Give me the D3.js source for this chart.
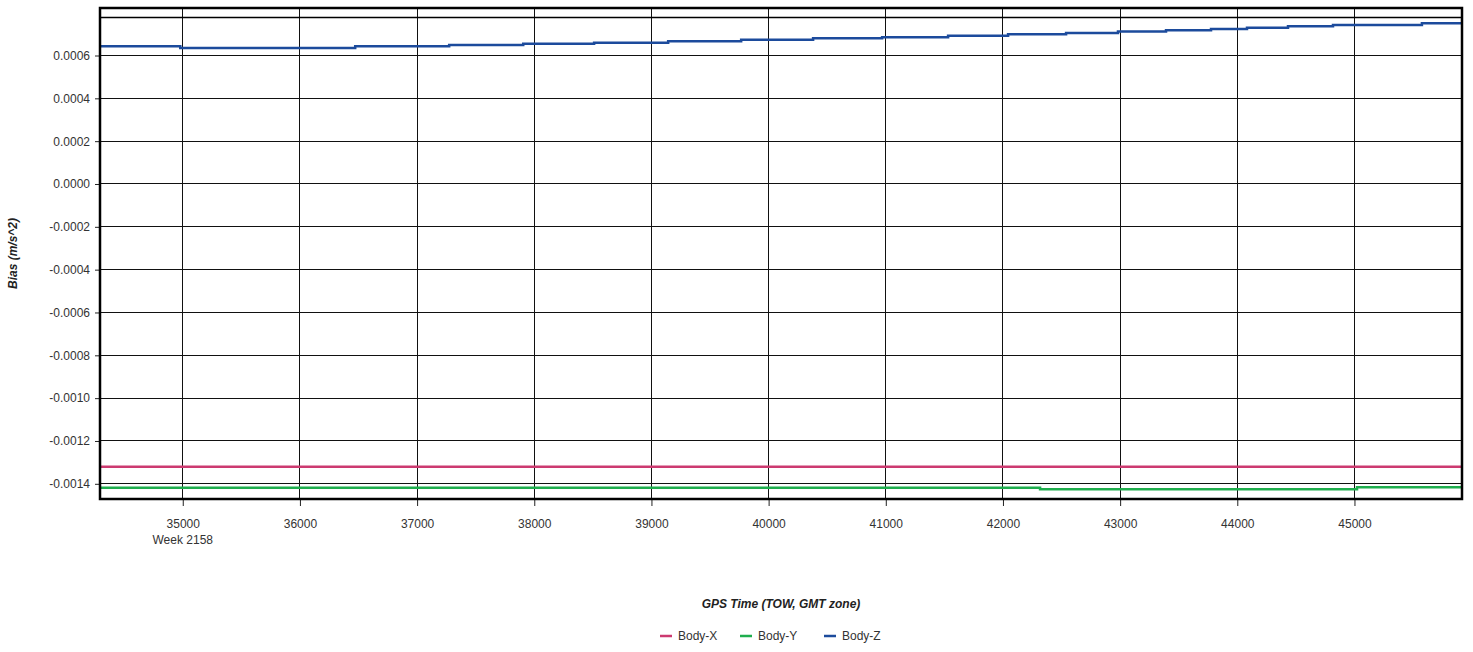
<!doctype html>
<html lang="en">
<head>
    <meta charset="utf-8">
    <script src="https://d3js.org/d3.v7.min.js"></script>
    <style type="text/css">
        body {
            padding: 0;
            margin: 0;
            background: #fff;
        }

        text {
            font-family: "Liberation Sans", Arial, sans-serif;
            fill: #333;
        }

        .grid line {
            stroke: #111;
            stroke-width: 1px;
        }

        .axis path {
            display: none;
        }

        .axis line {
            stroke: #222;
        }

        .axis text {
            font-size: 12px;
        }

        .title {
            font-size: 12px;
            font-weight: bold;
            font-style: italic;
            fill: #222;
        }

        .series {
            fill: none;
            stroke-width: 2.5px;
        }
    </style>
</head>

<body>
    <svg id="chart"></svg>

    <script type="text/javascript">

        // x = GPS time of week (s), y = bias (m/s^2); lines are step-after
        var xTicks = [35000, 36000, 37000, 38000, 39000, 40000, 41000, 42000, 43000, 44000, 45000];
        var yTicks = [0.0006, 0.0004, 0.0002, 0, -0.0002, -0.0004, -0.0006, -0.0008, -0.0010, -0.0012, -0.0014];

        var bodyXTime = [34298, 45922];
        var bodyXBias = [-0.0013225, -0.0013225];

        var bodyYTime = [34298, 42321, 45026, 45922];
        var bodyYBias = [-0.0014205, -0.0014280, -0.0014187, -0.0014187];

        var bodyZTime = [34298, 34983, 36476, 37278, 37910, 38515, 39147, 39770, 40384, 40973, 41536,
            42048, 42543, 42986, 43396, 43780, 44087, 44437, 44821, 45580, 45922];
        var bodyZBias = [0.0006406, 0.0006326, 0.0006410, 0.0006466, 0.0006527, 0.0006573, 0.0006639,
            0.0006713, 0.0006779, 0.0006825, 0.0006900, 0.0006965, 0.0007030, 0.0007100, 0.0007160,
            0.0007220, 0.0007270, 0.0007340, 0.0007400, 0.0007480, 0.0007480];

        var seriesNames = ["Body-X", "Body-Y", "Body-Z"];
        var seriesColors = ["#cc3a70", "#1fae4e", "#1c4b9c"];

        var series = [
            { name: seriesNames[0], color: seriesColors[0], t: bodyXTime, v: bodyXBias, w: 2.2 },
            { name: seriesNames[1], color: seriesColors[1], t: bodyYTime, v: bodyYBias, w: 2.6 },
            { name: seriesNames[2], color: seriesColors[2], t: bodyZTime, v: bodyZBias, w: 2.6 }
        ];

        var width = 1473,
            height = 652,
            plotLeft = 100, plotRight = 1462, plotTop = 8, plotBottom = 499;

        var svg = d3.select("#chart")
            .attr("width", width)
            .attr("height", height);

        var x = d3.scaleLinear()
            .domain([34298, 45922])
            .range([plotLeft, plotRight]);

        var y = d3.scaleLinear()
            .domain([-0.0014733, 0.0008195])
            .range([plotBottom, plotTop]);

        var fmtY = function (d) { return d3.format(".4f")(d).replace("\u2212", "-"); };

        // grid
        var grid = svg.append("g").attr("class", "grid");
        grid.selectAll("line.v")
            .data(xTicks)
            .enter().append("line").attr("class", "v")
            .attr("x1", function (d) { return Math.round(x(d)) + 0.5; })
            .attr("x2", function (d) { return Math.round(x(d)) + 0.5; })
            .attr("y1", plotTop)
            .attr("y2", plotBottom);
        grid.selectAll("line.h")
            .data(yTicks)
            .enter().append("line").attr("class", "h")
            .attr("y1", function (d) { return Math.round(y(d)) + 0.5; })
            .attr("y2", function (d) { return Math.round(y(d)) + 0.5; })
            .attr("x1", plotLeft)
            .attr("x2", plotRight);

        // axes
        svg.append("g")
            .attr("class", "axis")
            .attr("transform", "translate(" + plotLeft + ",0.5)")
            .call(d3.axisLeft(y)
                .tickValues(yTicks)
                .tickSize(5)
                .tickPadding(5)
                .tickFormat(fmtY));

        var xAxis = svg.append("g")
            .attr("class", "axis")
            .attr("transform", "translate(0.5," + plotBottom + ")")
            .call(d3.axisBottom(x)
                .tickValues(xTicks)
                .tickSize(7)
                .tickPadding(13)
                .tickFormat(d3.format("d")));

        xAxis.append("text")
            .attr("x", x(35000))
            .attr("y", 45)
            .attr("text-anchor", "middle")
            .style("font-size", "12px")
            .style("fill", "#333")
            .text("Week 2158");

        // series
        var line = d3.line()
            .curve(d3.curveStepAfter)
            .x(function (d) { return x(d[0]); })
            .y(function (d) { return y(d[1]); });

        var plot = svg.append("g");
        series.forEach(function (s) {
            plot.append("path")
                .attr("class", "series")
                .datum(d3.zip(s.t, s.v))
                .attr("stroke", s.color)
                .attr("stroke-width", s.w)
                .attr("d", line);
        });

        // frame
        svg.append("rect")
            .attr("x", plotLeft)
            .attr("y", plotTop)
            .attr("width", plotRight - plotLeft)
            .attr("height", plotBottom - plotTop)
            .attr("fill", "none")
            .attr("stroke", "#000")
            .attr("stroke-width", 2.5);
        svg.append("line")
            .attr("x1", plotLeft)
            .attr("x2", plotRight)
            .attr("y1", plotTop + 9.5)
            .attr("y2", plotTop + 9.5)
            .attr("stroke", "#000")
            .attr("stroke-width", 1.5);

        // titles
        svg.append("text")
            .attr("class", "title")
            .attr("transform", "translate(17," + (plotTop + plotBottom) / 2 + ") rotate(-90)")
            .attr("text-anchor", "middle")
            .text("Bias (m/s^2)");

        svg.append("text")
            .attr("class", "title")
            .attr("x", (plotLeft + plotRight) / 2)
            .attr("y", 608)
            .attr("text-anchor", "middle")
            .text("GPS Time (TOW, GMT zone)");

        // legend
        var legendX = [660, 740, 824];
        var legend = svg.append("g");
        series.forEach(function (s, i) {
            var g = legend.append("g").attr("transform", "translate(" + legendX[i] + ",636)");
            g.append("line")
                .attr("x1", 0).attr("x2", 12)
                .attr("stroke", s.color)
                .attr("stroke-width", 2.5);
            g.append("text")
                .attr("x", 18)
                .attr("y", 4)
                .style("font-size", "12px")
                .text(s.name);
        });

    </script>
</body>
</html>
